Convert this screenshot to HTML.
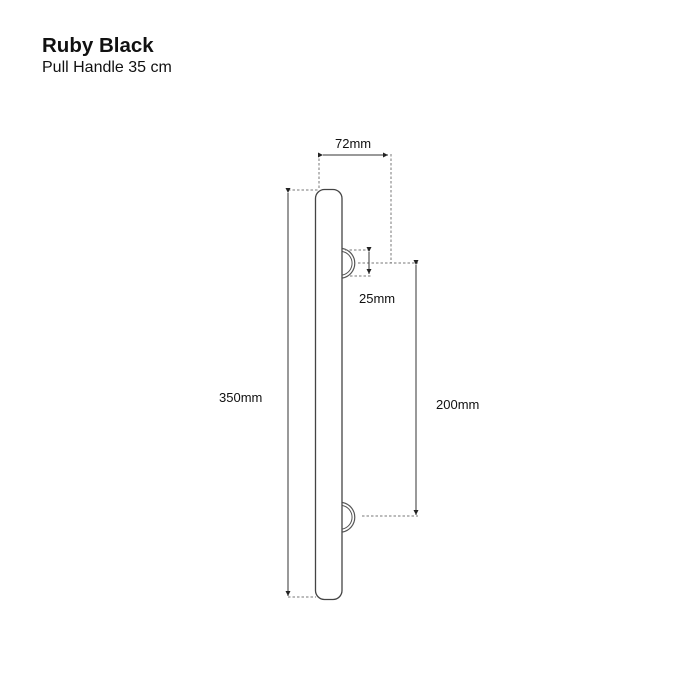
<!DOCTYPE html>
<html><head><meta charset="utf-8"><style>
html,body{margin:0;padding:0;background:#fff;}
svg{display:block;}
text{font-family:"Liberation Sans",sans-serif;fill:#111;}
</style></head><body>
<svg width="700" height="700" viewBox="0 0 700 700" xmlns="http://www.w3.org/2000/svg">
<defs>
<marker id="a" markerWidth="6" markerHeight="6" refX="5" refY="3" orient="auto" markerUnits="userSpaceOnUse">
<path d="M0,0.5 L5,3 L0,5.5 Z" fill="#222"/></marker>
</defs>
<text x="42" y="52" font-size="20.5" font-weight="bold">Ruby Black</text>
<text x="42" y="72" font-size="16">Pull Handle 35 cm</text>
<g fill="none" stroke="#555" stroke-width="1">
<rect x="315.5" y="189.5" width="26.5" height="410" rx="9" stroke="#444" stroke-width="1.3"/>
<path d="M342.5,248.5 A15,15 0 0 1 342.5,278" stroke-width="1.2"/>
<path d="M342.5,251.5 A12,12 0 0 1 342.5,275" stroke-width="1"/>
<path d="M342.5,502.5 A15,15 0 0 1 342.5,532" stroke-width="1.2"/>
<path d="M342.5,505.5 A12,12 0 0 1 342.5,529" stroke-width="1"/>
</g>
<g fill="none" stroke="#777" stroke-width="1" stroke-dasharray="2.5,2">
<line x1="288" y1="190" x2="318" y2="190"/>
<line x1="288" y1="597" x2="316" y2="597"/>
<line x1="319" y1="154" x2="319" y2="190"/>
<line x1="391" y1="154" x2="391" y2="263"/>
<line x1="345" y1="250" x2="372" y2="250"/>
<line x1="350" y1="276" x2="372" y2="276"/>
<line x1="358" y1="263" x2="418" y2="263"/>
<line x1="362" y1="516" x2="418" y2="516"/>
</g>
<g stroke="#333" stroke-width="1" fill="none">
<line x1="288" y1="193" x2="288" y2="596" marker-start="url(#a)" marker-end="url(#a)"/>
<line x1="323" y1="155" x2="388" y2="155" marker-start="url(#a)" marker-end="url(#a)"/>
<line x1="369" y1="252" x2="369" y2="274" marker-start="url(#a)" marker-end="url(#a)"/>
<line x1="416" y1="265" x2="416" y2="515" marker-start="url(#a)" marker-end="url(#a)"/>
</g>
<text x="335" y="148" font-size="13">72mm</text>
<text x="359" y="303" font-size="13">25mm</text>
<text x="436" y="409" font-size="13">200mm</text>
<text x="219" y="402" font-size="13">350mm</text>
</svg>
</body></html>
